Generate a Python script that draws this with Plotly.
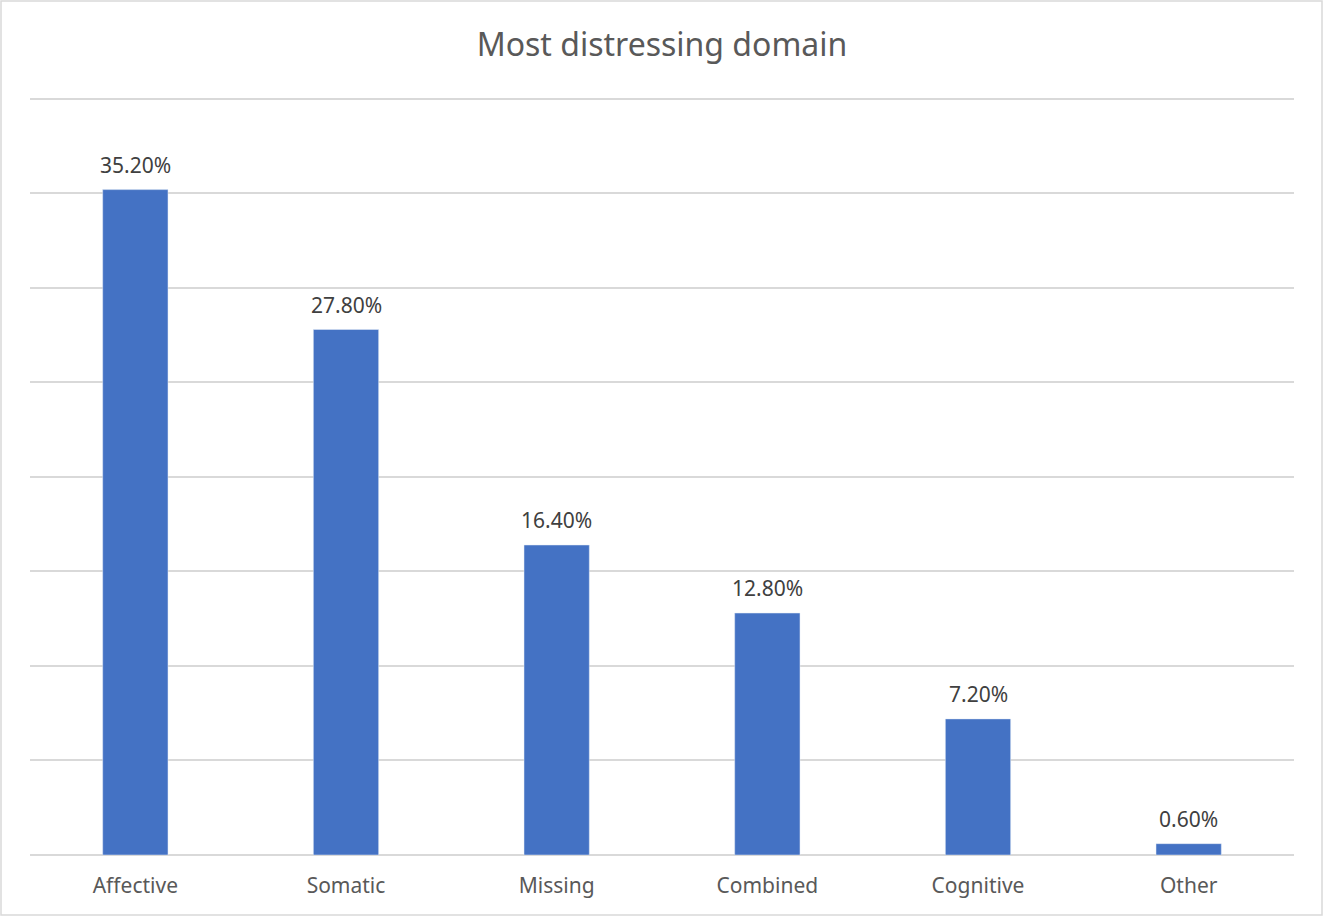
import plotly.graph_objects as go

categories = ["Affective", "Somatic", "Missing", "Combined", "Cognitive", "Other"]
values = [0.352, 0.278, 0.164, 0.128, 0.072, 0.006]
labels = ["35.20%", "27.80%", "16.40%", "12.80%", "7.20%", "0.60%"]

W, H = 1324, 917
L, R, T, B = 30, 30, 97, 62
YMAX = 0.401

fig = go.Figure()
fig.add_trace(go.Bar(x=categories, y=values, marker_color="#4472C4", width=0.31,
                     hoverinfo="skip"))
for c, v, t in zip(categories, values, labels):
    fig.add_annotation(x=c, y=v, text=t, showarrow=False, yanchor="bottom", yshift=9,
                       font=dict(size=21, color="#404040"))

pw = W - L - R
ph = H - T - B
fig.add_shape(type="rect", xref="paper", yref="paper",
              x0=(1 - L) / pw, x1=(W - 2 - L) / pw,
              y0=-(H - 2 - T - ph) / ph, y1=1 + (T - 1) / ph,
              line=dict(color="#D9D9D9", width=1.5), layer="below")

fig.update_layout(
    width=W, height=H,
    margin=dict(l=L, r=R, t=T, b=B),
    paper_bgcolor="white", plot_bgcolor="white",
    font=dict(family="Noto Sans, Open Sans, sans-serif", color="#595959"),
    title=dict(text="Most distressing domain", x=0.5, xanchor="center",
               y=1 - 45 / H, yanchor="middle",
               font=dict(size=32, color="#595959")),
    showlegend=False,
    bargap=0.69,
)
fig.update_xaxes(showgrid=False, showline=False, ticks="", ticklabelstandoff=16,
                 tickfont=dict(size=21, color="#595959"))
fig.update_yaxes(range=[0, YMAX], dtick=0.05, showgrid=True, gridcolor="#D9D9D9",
                 gridwidth=1.5, zeroline=True, zerolinecolor="#D9D9D9", zerolinewidth=1.5,
                 showticklabels=False, ticks="")

fig.write_html("out.html")
